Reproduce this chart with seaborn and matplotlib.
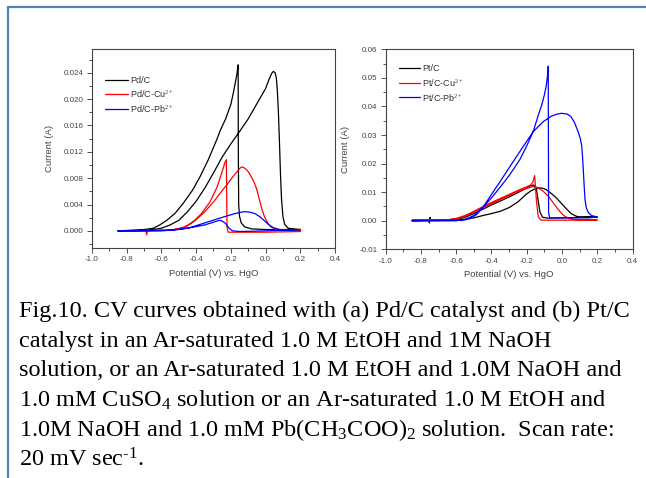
import matplotlib
matplotlib.use("Agg")
import matplotlib.pyplot as plt
from matplotlib.lines import Line2D
from matplotlib.ticker import MultipleLocator, FormatStrFormatter
import seaborn as sns
import pandas as pd

# ---------------- data: (a) Pd/C ----------------
pd_c_fwd_v = [-0.85, -0.75, -0.65, -0.6, -0.55, -0.5, -0.45, -0.4, -0.35, -0.3, -0.25, -0.2, -0.157, -0.1, -0.05, 0.0, 0.02, 0.035, 0.045, 0.055, 0.062, 0.068, 0.074, 0.08, 0.086, 0.092, 0.1, 0.11, 0.13, 0.2]
pd_c_fwd_i = [0.0, 0.0, 0.0002, 0.0004, 0.0009, 0.0016, 0.0029, 0.0045, 0.0065, 0.0088, 0.0112, 0.0132, 0.0148, 0.0170, 0.0193, 0.0216, 0.0230, 0.0239, 0.0242, 0.0240, 0.0232, 0.0212, 0.0180, 0.0135, 0.0085, 0.0048, 0.0022, 0.0010, 0.0004, 0.0002]
pd_c_rev_v = [0.2, 0.0, -0.08, -0.12, -0.14, -0.15, -0.155, -0.157, -0.158, -0.165, -0.175, -0.186, -0.2, -0.23, -0.26, -0.282, -0.33, -0.378, -0.42, -0.474, -0.52, -0.569, -0.61, -0.646, -0.7, -0.85]
pd_c_rev_i = [0.0002, 0.0002, 0.0003, 0.0006, 0.0012, 0.0022, 0.0040, 0.0120, 0.0252, 0.0238, 0.0224, 0.0209, 0.0192, 0.0170, 0.0153, 0.0138, 0.0108, 0.0082, 0.0062, 0.0042, 0.0027, 0.0016, 0.0009, 0.0004, 0.0002, 0.0]

pd_cu_fwd_v = [-0.85, -0.69, -0.685, -0.68, -0.675, -0.55, -0.5, -0.45, -0.4, -0.35, -0.3, -0.25, -0.2, -0.18, -0.16, -0.148, -0.138, -0.125, -0.11, -0.095, -0.08, -0.065, -0.052, -0.04, -0.03, -0.02, -0.01, 0.0, 0.015, 0.03, 0.06, 0.1, 0.2]
pd_cu_fwd_i = [0.0, 0.0, -0.0006, 0.0003, 0.0, 0.0001, 0.0003, 0.0008, 0.0017, 0.0029, 0.0044, 0.0061, 0.0078, 0.0085, 0.0091, 0.0095, 0.0097, 0.0096, 0.0093, 0.0088, 0.0081, 0.0073, 0.0064, 0.0052, 0.0042, 0.0032, 0.0024, 0.0018, 0.0011, 0.0006, 0.0002, 0.0001, 0.0001]
pd_cu_rev_v = [0.2, 0.0, -0.2, -0.215, -0.222, -0.226, -0.235, -0.25, -0.28, -0.32, -0.37, -0.42, -0.47, -0.55, -0.85]
pd_cu_rev_i = [-0.0001, -0.0002, -0.0002, -0.0002, 0.0005, 0.0108, 0.0103, 0.0090, 0.0066, 0.0044, 0.0026, 0.0013, 0.0005, 0.0001, 0.0]

pd_pb_fwd_v = [-0.85, -0.6, -0.5, -0.435, -0.339, -0.244, -0.18, -0.147, -0.125, -0.109, -0.085, -0.06, -0.03, -0.014, 0.02, 0.044, 0.082, 0.12, 0.2]
pd_pb_fwd_i = [0.0, 0.0, 0.0002, 0.0005, 0.0013, 0.0021, 0.0026, 0.0028, 0.0029, 0.0029, 0.0028, 0.0026, 0.0021, 0.0017, 0.0009, 0.0005, 0.0002, 0.0001, 0.0002]
pd_pb_rev_v = [0.2, 0.0, -0.15, -0.19, -0.21, -0.23, -0.25, -0.265, -0.29, -0.35, -0.45, -0.55, -0.85]
pd_pb_rev_i = [0.0002, 0.0, -0.0001, 0.0, 0.0004, 0.0011, 0.0015, 0.0016, 0.0014, 0.0009, 0.0004, 0.0001, 0.0]

# ---------------- data: (b) Pt/C ----------------
pt_c_fwd_v = [-0.85, -0.755, -0.752, -0.748, -0.744, -0.6, -0.55, -0.5, -0.45, -0.4, -0.35, -0.3, -0.25, -0.2, -0.175, -0.15, -0.13, -0.11, -0.09, -0.07, -0.04, -0.01, 0.02, 0.05, 0.08, 0.1, 0.2]
pt_c_fwd_i = [0.0, 0.0, -0.0008, 0.0012, 0.0, 0.0001, 0.0005, 0.0010, 0.0018, 0.0025, 0.0033, 0.0046, 0.0066, 0.0094, 0.0105, 0.0112, 0.0115, 0.0114, 0.0109, 0.0100, 0.0085, 0.0065, 0.0045, 0.0026, 0.0016, 0.0013, 0.0013]
pt_c_rev_v = [0.2, 0.0, -0.08, -0.11, -0.125, -0.135, -0.145, -0.16, -0.18, -0.22, -0.3, -0.4, -0.45, -0.5, -0.55, -0.6, -0.85]
pt_c_rev_i = [0.0013, 0.0010, 0.0009, 0.0012, 0.0030, 0.0070, 0.0110, 0.0125, 0.0122, 0.0108, 0.0083, 0.0055, 0.0040, 0.0025, 0.0012, 0.0004, 0.0]

pt_cu_fwd_v = [-0.85, -0.65, -0.6, -0.55, -0.5, -0.45, -0.4, -0.35, -0.3, -0.25, -0.2, -0.17, -0.14, -0.11, -0.08, -0.05, -0.02, 0.01, 0.04, 0.08, 0.2]
pt_cu_fwd_i = [0.0002, 0.0003, 0.0006, 0.0015, 0.0030, 0.0045, 0.0060, 0.0074, 0.0088, 0.0102, 0.0113, 0.0119, 0.0117, 0.0105, 0.0088, 0.0063, 0.0038, 0.0018, 0.0008, 0.0004, 0.0003]
pt_cu_rev_v = [0.2, -0.12, -0.135, -0.145, -0.155, -0.165, -0.18, -0.25, -0.3, -0.4, -0.45, -0.5, -0.55, -0.6, -0.65, -0.85]
pt_cu_rev_i = [0.0002, 0.0002, 0.0015, 0.0070, 0.0158, 0.0135, 0.0124, 0.0106, 0.0092, 0.0064, 0.0049, 0.0033, 0.0018, 0.0008, 0.0003, 0.0002]

pt_pb_fwd_v = [-0.85, -0.6, -0.55, -0.5, -0.446, -0.4, -0.35, -0.3, -0.25, -0.2, -0.163, -0.106, -0.06, -0.03, -0.002, 0.03, 0.05, 0.07, 0.083, 0.095, 0.105, 0.112, 0.117, 0.121, 0.126, 0.131, 0.138, 0.15, 0.168, 0.2]
pt_pb_fwd_i = [0.0, 0.0, 0.0005, 0.0018, 0.0049, 0.0092, 0.0138, 0.0185, 0.0232, 0.0278, 0.0312, 0.0347, 0.0366, 0.0373, 0.0376, 0.0373, 0.0365, 0.0345, 0.0325, 0.0305, 0.0285, 0.0262, 0.0220, 0.0177, 0.0120, 0.0072, 0.0045, 0.0028, 0.0018, 0.0013]
pt_pb_rev_v = [0.2, 0.15, 0.0, -0.07, -0.076, -0.078, -0.08, -0.084, -0.09, -0.1, -0.115, -0.134, -0.163, -0.2, -0.238, -0.27, -0.3, -0.35, -0.4, -0.45, -0.484, -0.52, -0.55, -0.85]
pt_pb_rev_i = [0.0013, 0.0010, 0.0010, 0.0010, 0.0030, 0.0541, 0.0520, 0.0497, 0.0470, 0.0440, 0.0405, 0.0370, 0.0313, 0.0262, 0.0215, 0.0185, 0.0158, 0.0118, 0.0080, 0.0045, 0.0022, 0.0008, 0.0003, 0.0]

labels_a = ["Pd/C", "Pd/C-Cu$^{2+}$", "Pd/C-Pb$^{2+}$"]
labels_b = ["Pt/C", "Pt/C-Cu$^{2+}$", "Pt/C-Pb$^{2+}$"]
series_colors = ["#000000", "#FF0000", "#0000FF"]

caption_lines = [
    "Fig.10. CV curves obtained with (a) Pd/C catalyst and (b) Pt/C",
    "catalyst in an Ar-saturated 1.0 M EtOH and 1M NaOH",
    "solution, or an Ar-saturated 1.0 M EtOH and 1.0M NaOH and",
    "1.0 mM CuSO$_4$ solution or an Ar-saturated 1.0 M EtOH and",
    "1.0M NaOH and 1.0 mM Pb(CH$_3$COO)$_2$ solution.  Scan rate:",
    "20 mV sec$^{\\text{-}1}$.",
]

# ---------------- style ----------------
sns.set_style("ticks")
plt.rcParams["font.family"] = ["Liberation Sans", "DejaVu Sans"]
plt.rcParams["axes.unicode_minus"] = False
plt.rcParams["mathtext.fontset"] = "custom"
plt.rcParams["mathtext.rm"] = "Liberation Serif"
plt.rcParams["mathtext.it"] = "Liberation Serif"

W, H = 646, 478
fig = plt.figure(figsize=(W / 100, H / 100), dpi=100)
fig.patch.set_facecolor("white")


def ax_rect(x0, y0, x1, y1):
    return [x0 / W, 1 - y1 / H, (x1 - x0) / W, (y1 - y0) / H]


ax1 = fig.add_axes(ax_rect(92, 49, 335, 248))
ax2 = fig.add_axes(ax_rect(385.7, 49.3, 632.5, 249.3))


def draw(ax, curves, labels):
    for (fv, fi, rv, ri), lab, col in zip(curves, labels, series_colors):
        df = pd.DataFrame({"v": list(fv) + list(rv), "i": list(fi) + list(ri)})
        sns.lineplot(data=df, x="v", y="i", sort=False, estimator=None,
                     color=col, lw=0.9, ax=ax, label=lab)


draw(ax1, [(pd_c_fwd_v, pd_c_fwd_i, pd_c_rev_v, pd_c_rev_i),
           (pd_cu_fwd_v, pd_cu_fwd_i, pd_cu_rev_v, pd_cu_rev_i),
           (pd_pb_fwd_v, pd_pb_fwd_i, pd_pb_rev_v, pd_pb_rev_i)], labels_a)
draw(ax2, [(pt_c_fwd_v, pt_c_fwd_i, pt_c_rev_v, pt_c_rev_i),
           (pt_cu_fwd_v, pt_cu_fwd_i, pt_cu_rev_v, pt_cu_rev_i),
           (pt_pb_fwd_v, pt_pb_fwd_i, pt_pb_rev_v, pt_pb_rev_i)], labels_b)

ax1.set_xlim(-1.0, 0.4)
ax1.set_ylim(-0.0026, 0.0276)
ax1.yaxis.set_major_locator(MultipleLocator(0.004))
ax1.yaxis.set_minor_locator(MultipleLocator(0.002))
ax1.yaxis.set_major_formatter(FormatStrFormatter("%.3f"))

ax2.set_xlim(-1.0, 0.4)
ax2.set_ylim(-0.01, 0.06)
ax2.yaxis.set_major_locator(MultipleLocator(0.01))
ax2.yaxis.set_minor_locator(MultipleLocator(0.005))
ax2.yaxis.set_major_formatter(FormatStrFormatter("%.2f"))

for ax in (ax1, ax2):
    ax.xaxis.set_major_locator(MultipleLocator(0.2))
    ax.xaxis.set_minor_locator(MultipleLocator(0.1))
    ax.xaxis.set_major_formatter(FormatStrFormatter("%.1f"))
    ax.tick_params(which="both", direction="out", top=False, right=False,
                   colors="#333333", width=0.6, labelsize=5.8, pad=2.5,
                   labelcolor="#444444")
    ax.tick_params(which="major", length=3.5)
    ax.tick_params(which="minor", length=2.2)
    for sp in ax.spines.values():
        sp.set_visible(True)
        sp.set_linewidth(0.8)
        sp.set_color("#444444")
    ax.set_xlabel("Potential (V) vs. HgO", fontsize=6.8, color="#444444", labelpad=4)
    ax.set_ylabel("Current (A)", fontsize=6.8, color="#444444", labelpad=7)
    ax.set_facecolor("white")
    ax.grid(False)

leg1 = ax1.legend(loc="upper left", bbox_to_anchor=(0.055, 0.865), frameon=False,
                  fontsize=6.5, handlelength=2.5, handletextpad=0.25,
                  labelspacing=0.4, borderaxespad=0, borderpad=0)
leg2 = ax2.legend(loc="upper left", bbox_to_anchor=(0.055, 0.925), frameon=False,
                  fontsize=6.5, handlelength=2.3, handletextpad=0.25,
                  labelspacing=0.4, borderaxespad=0, borderpad=0)
for leg in (leg1, leg2):
    for t in leg.get_texts():
        t.set_color("#333333")

# caption
baselines = [316.5, 346.5, 376.5, 406.5, 436.5, 466.5]
for line, yb in zip(caption_lines, baselines):
    fig.text(19 / W, 1 - yb / H, line, fontsize=17.5, va="baseline", ha="left",
             family=["Liberation Serif", "DejaVu Serif"], color="black")

# blue page frame (left and top)
frame_col = "#4F81BD"
fig.add_artist(Line2D([7.5 / W, 7.5 / W], [0, 1 - 7 / H], color=frame_col, lw=1.6,
                      transform=fig.transFigure))
fig.add_artist(Line2D([7.5 / W, 1], [1 - 7 / H, 1 - 7 / H], color=frame_col, lw=1.6,
                      transform=fig.transFigure))

fig.savefig("out.png", dpi=100, facecolor="white")
